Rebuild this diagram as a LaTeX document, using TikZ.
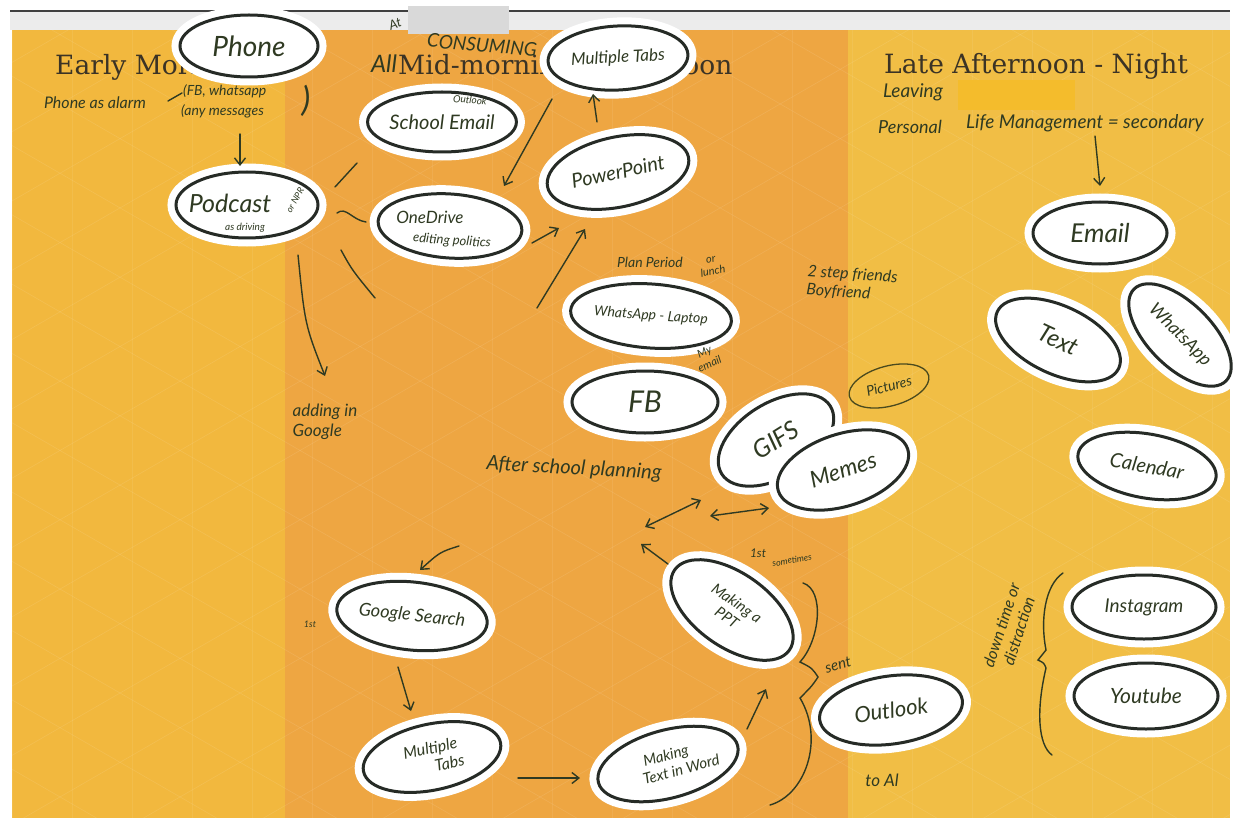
\documentclass[tikz,border=0pt]{standalone}
\usepackage{fontspec}
\setmainfont{DejaVu Serif}
\newfontfamily\hand{Lato}
\usetikzlibrary{arrows.meta,shapes.geometric}
\definecolor{inkc}{HTML}{2F3A22}
\definecolor{outc}{HTML}{262B26}
\definecolor{colA}{HTML}{F2B83E}
\definecolor{colB}{HTML}{EEA642}
\definecolor{colC}{HTML}{F1BE45}
\definecolor{headc}{HTML}{3B3325}
\definecolor{olive}{HTML}{4A4A1E}
\definecolor{hilite}{HTML}{F4BC2C}
\newcommand{\fs}[1]{\fontsize{#1}{\fpeval{1.15*#1}}\selectfont}
\tikzset{
  bub/.style={ellipse, draw=outc, line width=3pt, fill=white, inner sep=0pt,
    preaction={draw=white, line width=17pt}, text=inkc, align=center},
  hs/.style={font=\hand\itshape\fs{#1}},
  note/.style={text=inkc, align=center, inner sep=0pt},
  head/.style={text=headc, font=\fs{26.5}, anchor=west, inner sep=0pt},
  ink/.style={draw=inkc, line width=1.4pt, line cap=round,
    -{Straight Barb[length=7pt,width=11pt]}},
  inkd/.style={draw=inkc, line width=1.4pt, line cap=round,
    {Straight Barb[length=7pt,width=11pt]}-{Straight Barb[length=7pt,width=11pt]}},
  stroke/.style={draw=inkc, line width=1.4pt, line cap=round},
}
\begin{document}
\begin{tikzpicture}[x=1pt,y=-1pt]
\useasboundingbox (0,0) rectangle (1241,818);
% page background
\fill[white] (0,0) rectangle (1241,818);
\fill[gray!15] (10,11) rectangle (1230,30);
\draw[black!75, line width=1.5pt] (10,11) -- (1230,11);
% columns
\fill[colA] (12,30) rectangle (285,818);
\fill[colB] (285,30) rectangle (848,818);
\fill[colC] (848,30) rectangle (1230,818);
% faint pattern
\begin{scope}
\clip (12,30) rectangle (1230,818);
\foreach \k in {0,...,21} {\draw[white, opacity=0.07, line width=0.6pt] (12+\k*60,30) -- (12+\k*60,818);}
\foreach \k in {-20,...,12} {\draw[white, opacity=0.1, line width=0.6pt] (0,\k*69.3) -- (1241,\k*69.3+716.5);}
\foreach \k in {0,...,32} {\draw[white, opacity=0.1, line width=0.6pt] (0,\k*69.3) -- (1241,\k*69.3-716.5);}
\end{scope}
% redactions
\fill[gray!30] (408,6) rectangle (509,34);
\fill[hilite] (958,80) rectangle (1075,110);
% headings
\node[head] (h1) at (55,67) {Early Morning};
\node[head] (h2) at (398,67) {Mid-morning - Afternoon};
\node[head] (h3) at (884,66) {Late Afternoon - Night};

% ---------- bubbles ----------
\node[bub, hs=28, minimum width=138, minimum height=62] (phone) at (249,46) {Phone};
\node[bub, hs=20, minimum width=140, minimum height=60] (school) at (442,122) {School Email};
\node[note, hs=10, rotate=-5] (outlk) at (470,100) {Outlook};
\node[bub, hs=17, minimum width=140, minimum height=64, rotate=3] (tabs1) at (618,58) {Multiple Tabs};
\node[bub, hs=20, minimum width=144, minimum height=70, rotate=12] (ppt) at (618,172) {PowerPoint};
\node[bub, minimum width=142, minimum height=66] (podcast) at (247,205) {};
\node[note, hs=25] (podt) at (230,203) {Podcast};
\node[note, hs=9, rotate=60] (npr) at (295,200) {or NPR};
\node[note, hs=10] (drv) at (245,228) {as driving};
\node[bub, minimum width=144, minimum height=64, rotate=-4] (onedrive) at (450,226) {};
\node[note, hs=17] (odt) at (430,217) {OneDrive};
\node[note, hs=13, rotate=-4] (odp) at (452,241) {editing politics};
\node[bub, hs=14, minimum width=138, minimum height=64, rotate=-4] (wapp1) at (651,316) {WhatsApp - Laptop};
\node[bub, hs=30, minimum width=146, minimum height=62] (fb) at (645,402) {FB};
\node[bub, hs=25, minimum width=128, minimum height=74, rotate=32] (gifs) at (776,440) {GIFS};
\node[bub, hs=23, minimum width=136, minimum height=72, rotate=18] (memes) at (843,470) {Memes};
\node[ellipse, draw=olive, line width=1.3pt, minimum width=82, minimum height=40, rotate=15, text=inkc, hs=14, inner sep=0pt] (pics) at (889,386) {Pictures};
\node[bub, hs=26, minimum width=134, minimum height=62] (email) at (1100,233) {Email};
\node[bub, hs=24, minimum width=134, minimum height=68, rotate=-25] (text) at (1058,340) {Text};
\node[bub, hs=18, minimum width=130, minimum height=64, rotate=-45] (wapp2) at (1180,335) {WhatsApp};
\node[bub, hs=20, minimum width=140, minimum height=64, rotate=-10] (cal) at (1147,466) {Calendar};
\node[bub, hs=19, minimum width=144, minimum height=64] (insta) at (1144,607) {Instagram};
\node[bub, hs=21, minimum width=144, minimum height=66] (yt) at (1146,696) {Youtube};
\node[bub, hs=18, minimum width=148, minimum height=68, rotate=-6] (google) at (412,616) {Google Search};
\node[bub, hs=16, minimum width=140, minimum height=66, rotate=12] (tabs2) at (432,757) {Multiple\\\hspace*{2em}Tabs};
\node[bub, hs=15, minimum width=144, minimum height=68, rotate=15] (word) at (668,764) {Making\\\hspace*{1.5em}Text in Word};
\node[bub, hs=15, minimum width=140, minimum height=74, rotate=-35] (mppt) at (732,610) {Making a\\PPT};
\node[bub, hs=22, minimum width=144, minimum height=68, rotate=8] (outlook) at (891,710) {Outlook};

% ---------- annotations ----------
\node[note, hs=13, rotate=20] (at) at (395,24) {At};
\node[note, hs=24] (all) at (384,64) {All};
\node[note, hs=19, rotate=-5] (cons) at (482,45) {CONSUMING};
\node[note, hs=16] (alarm) at (95,103) {Phone as alarm};
\node[note, hs=14, anchor=west] (fbw) at (183,91) {(FB, whatsapp};
\node[note, hs=14, anchor=west] (anym) at (181,111) {(any messages};
\node[note, hs=34] (paren) at (306,101) {)};
\node[note, hs=17, align=left] (adding) at (325,422) {adding in\\Google};
\node[note, hs=14] (plan) at (650,262) {Plan Period};
\node[note, hs=11, rotate=10] (lunch) at (712,266) {or\\lunch};
\node[note, hs=11, rotate=25] (myemail) at (707,358) {My\\email};
\node[note, hs=16, rotate=-4, align=left] (step) at (852,284) {2 step friends\\Boyfriend};
\node[note, hs=20, rotate=-3] (after) at (574,469) {After school planning};
\node[note, hs=9] (first1) at (310,624) {1st};
\node[note, hs=12] (first2) at (758,553) {1st};
\node[note, hs=9, rotate=10] (somet) at (792,560) {sometimes};
\node[note, hs=15, rotate=15] (sent) at (838,665) {sent};
\node[note, hs=17] (toai) at (882,780) {to Al};
\node[note, hs=19] (leaving) at (913,92) {Leaving};
\node[note, hs=18, anchor=west] (pers) at (878,127) {Personal};
\node[note, hs=19, anchor=west] (life) at (966,123) {Life Management = secondary};
\node[note, hs=16, rotate=72] (down) at (1010,628) {down time or\\distraction};

% ---------- connectors ----------
\coordinate (c1a) at (240,134); \coordinate (c1b) at (240,166);
\draw[ink] (c1a) -- (c1b);
\coordinate (c0a) at (168,101); \coordinate (c0b) at (182,93);
\draw[stroke] (c0a) -- (c0b);
\coordinate (s1a) at (335,187); \coordinate (s1b) at (357,163);
\draw[stroke] (s1a) -- (s1b);
\coordinate (s2a) at (337,213); \coordinate (s2b) at (366,222);
\draw[stroke] (s2a) .. controls (346,206) and (352,220) .. (s2b);
\coordinate (s3a) at (341,250); \coordinate (s3b) at (375,298);
\draw[stroke] (s3a) .. controls (352,270) .. (s3b);
\coordinate (c2a) at (298,255); \coordinate (c2b) at (325,376);
\draw[ink] (c2a) .. controls (305,325) .. (c2b);
\coordinate (c3a) at (552,99); \coordinate (c3b) at (504,186);
\draw[ink] (c3a) -- (c3b);
\coordinate (c4a) at (597,122); \coordinate (c4b) at (593,94);
\draw[ink] (c4a) -- (c4b);
\coordinate (c5a) at (532,243); \coordinate (c5b) at (559,228);
\draw[ink] (c5a) -- (c5b);
\coordinate (c6a) at (537,308); \coordinate (c6b) at (585,229);
\draw[ink] (c6a) -- (c6b);
\coordinate (d1a) at (645,527); \coordinate (d1b) at (701,500);
\draw[inkd] (d1a) -- (d1b);
\coordinate (d2a) at (710,516); \coordinate (d2b) at (769,508);
\draw[inkd] (d2a) -- (d2b);
\coordinate (c7a) at (668,564); \coordinate (c7b) at (641,544);
\draw[ink] (c7a) -- (c7b);
\coordinate (c8a) at (459,546); \coordinate (c8b) at (420,570);
\draw[ink] (c8a) .. controls (440,552) .. (c8b);
\coordinate (c9a) at (398,667); \coordinate (c9b) at (411,711);
\draw[ink] (c9a) -- (c9b);
\coordinate (c10a) at (518,778); \coordinate (c10b) at (580,778);
\draw[ink] (c10a) -- (c10b);
\coordinate (c11a) at (747,729); \coordinate (c11b) at (766,689);
\draw[ink] (c11a) -- (c11b);
\coordinate (c12a) at (1095,136); \coordinate (c12b) at (1100,186);
\draw[ink] (c12a) -- (c12b);
% brace near "sent"
\coordinate (b1a) at (803,583); \coordinate (b1b) at (770,805);
\draw[stroke] (b1a) .. controls (825,590) and (820,640) .. (800,662)
  .. controls (812,668) .. (818,677) .. controls (812,686) .. (800,698)
  .. controls (825,740) and (805,795) .. (b1b);
% brace near "down time"
\coordinate (b2a) at (1063,573); \coordinate (b2b) at (1052,755);
\draw[stroke] (b2a) .. controls (1045,585) and (1040,620) .. (1046,650)
  .. controls (1042,655) .. (1038,660) .. controls (1044,663) .. (1046,668)
  .. controls (1036,710) and (1038,745) .. (b2b);
\end{tikzpicture}
\end{document}
